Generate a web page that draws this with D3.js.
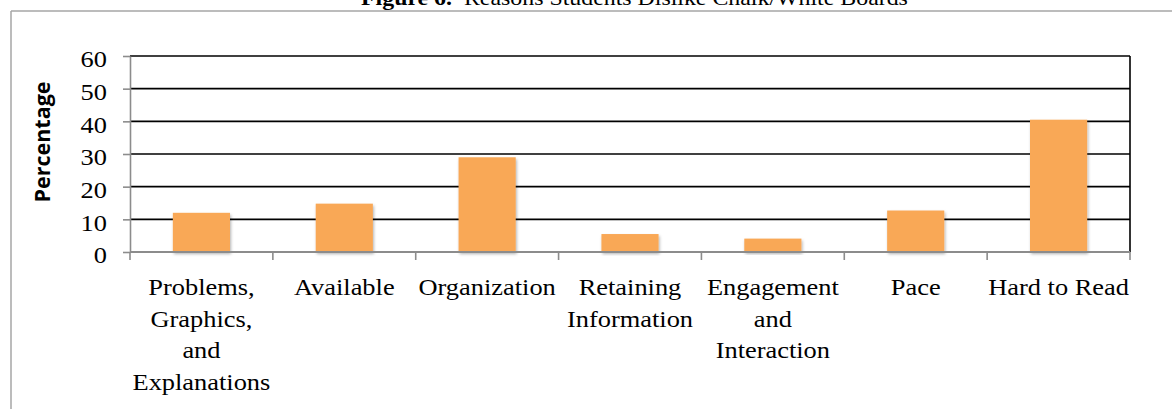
<!DOCTYPE html>
<html><head><meta charset="utf-8">
<script src="https://cdn.jsdelivr.net/npm/d3@7"></script>
<style>
body{margin:0;background:#fff;}
svg{display:block;}
</style></head><body>
<script>
const categories = ["Problems, Graphics, and Explanations","Available","Organization","Retaining Information","Engagement and Interaction","Pace","Hard to Read"];
const labelLines = [["Problems,","Graphics,","and","Explanations"],["Available"],["Organization"],["Retaining","Information"],["Engagement","and","Interaction"],["Pace"],["Hard to Read"]];
const values = [12, 14.8, 29, 5.5, 4.1, 12.7, 40.5];
const yTicks = [0, 10, 20, 30, 40, 50, 60];
const titleBold = "Figure 6.";
const titleRest = "  Reasons Students Dislike Chalk/White Boards";
const yTitle = "Percentage";

const W = 1172, H = 409;
const svg = d3.select("body").append("svg").attr("width", W).attr("height", H);
const defs = svg.append("defs");
const f = defs.append("filter").attr("id","sh").attr("x","-20%").attr("y","-20%").attr("width","140%").attr("height","140%");
f.append("feDropShadow").attr("dx",1).attr("dy",2).attr("stdDeviation",1.6).attr("flood-color","#000").attr("flood-opacity",0.3);

const serif = "'Liberation Serif','Times New Roman',serif";
const SX = 1.1;

// frame
svg.append("line").attr("x1",11).attr("x2",11).attr("y1",11).attr("y2",H).attr("stroke","#a6a6a6").attr("stroke-width",1.5);
svg.append("line").attr("x1",11).attr("x2",W).attr("y1",11).attr("y2",11).attr("stroke","#a6a6a6").attr("stroke-width",1.5);

// title
const tt = svg.append("text").attr("transform",`translate(361,5.3) scale(${SX},1)`)
  .style("font-family",serif).style("font-size","21.7px").style("white-space","pre").attr("fill","#000");
tt.append("tspan").attr("font-weight","bold").text(titleBold);
tt.append("tspan").text(titleRest);

const x = d3.scaleBand().domain(categories).range([130,1130]).paddingInner(0.6).paddingOuter(0.3);
const y = d3.scaleLinear().domain([0,60]).range([252,56]);

// gridlines
svg.append("g").selectAll("line").data(yTicks.filter(d=>d>0)).join("line")
  .attr("x1",130).attr("x2",1130).attr("y1",d=>y(d)).attr("y2",d=>y(d))
  .attr("stroke","#000").attr("stroke-width",1.6);
// right border
svg.append("line").attr("x1",1130).attr("x2",1130).attr("y1",y(60)).attr("y2",y(0)).attr("stroke","#000").attr("stroke-width",1.6);

// y axis
const yAxis = d3.axisLeft(y).tickValues(yTicks).tickSize(7).tickSizeOuter(0).tickFormat("");
const gy = svg.append("g").attr("transform","translate(130,0)").call(yAxis);
gy.selectAll("path,line").attr("stroke","#8c8c8c").attr("stroke-width",1.6);

svg.append("g").selectAll("text").data(yTicks).join("text")
  .attr("transform",d=>`translate(107,${y(d)+11.3}) scale(${SX},1)`)
  .attr("text-anchor","end").style("font-family",serif).style("font-size","24px").attr("fill","#000")
  .text(d=>d);

// bars
svg.append("g").selectAll("rect").data(values).join("rect")
  .attr("x",(d,i)=>x(categories[i])).attr("width",x.bandwidth())
  .attr("y",d=>y(d)).attr("height",d=>y(0)-y(d))
  .attr("fill","#f9a857").attr("filter","url(#sh)");

// x axis
const step = x.step();
const bounds = d3.range(categories.length+1).map(i=>130+i*step);
svg.append("line").attr("x1",130).attr("x2",1130).attr("y1",y(0)).attr("y2",y(0)).attr("stroke","#8c8c8c").attr("stroke-width",2);
svg.append("g").selectAll("line").data(bounds).join("line")
  .attr("x1",d=>d).attr("x2",d=>d).attr("y1",y(0)).attr("y2",y(0)+8)
  .attr("stroke","#8c8c8c").attr("stroke-width",1.6);

// x labels
const lg = svg.append("g");
categories.forEach((c,i)=>{
  const cx = x(c)+x.bandwidth()/2;
  labelLines[i].forEach((ln,j)=>{
    lg.append("text").attr("transform",`translate(${cx},${295+j*31.5}) scale(${SX},1)`)
      .attr("text-anchor","middle").style("font-family",serif).style("font-size","24px").attr("fill","#000").text(ln);
  });
});

// y title
svg.append("text").attr("transform","translate(50,142) rotate(-90)")
  .attr("text-anchor","middle").style("font-family","'Open Sans',sans-serif").style("font-weight","bold")
  .style("font-size","21.5px").attr("fill","#000").text(yTitle);
</script>
</body></html>
